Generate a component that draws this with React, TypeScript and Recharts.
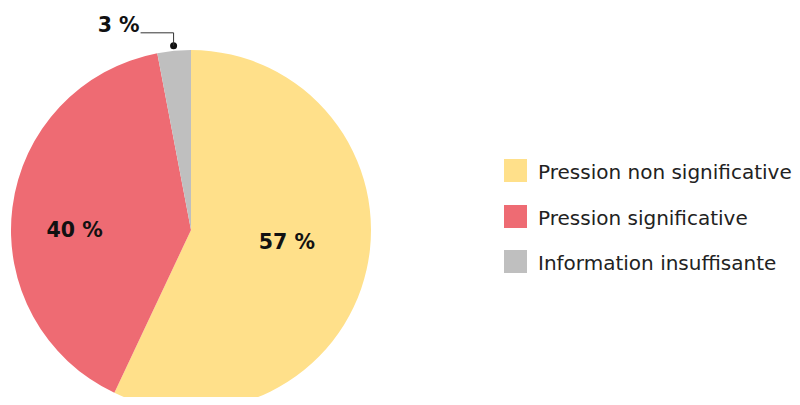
import { PieChart, Pie, Cell } from 'recharts'

const categories = ['Pression non significative', 'Pression significative', 'Information insuffisante']
const values = [57, 40, 3]
const COLORS = ['#FFE08A', '#EE6B73', '#BFBFBF']

const data = categories.map((name, i) => ({ name, value: values[i] }))

const RADIAN = Math.PI / 180
const FONT = '"DejaVu Sans", sans-serif'

// Label placement: inside for big slices, leader line for the small one
function renderLabel(props: any) {
  const { cx, cy, midAngle, outerRadius, index, value } = props
  const cos = Math.cos(-midAngle * RADIAN)
  const sin = Math.sin(-midAngle * RADIAN)
  if (index === 2) {
    const r = outerRadius + 5
    const x = cx + r * cos
    const y = cy + r * sin
    const topY = y - 13
    const endX = x - 33
    return (
      <g>
        <circle cx={x} cy={y} r={3.5} fill="#111" />
        <polyline points={`${x},${y} ${x},${topY} ${endX},${topY}`} fill="none" stroke="#333" strokeWidth={1} />
        <text x={endX - 1} y={topY - 1} textAnchor="end" fontFamily={FONT} fontWeight="bold" fontSize={20.5} fill="#111">
          {`${value} %`}
        </text>
      </g>
    )
  }
  const r = index === 0 ? outerRadius * 0.54 : outerRadius * 0.64
  const x = cx + r * cos + (index === 0 ? 1 : -2)
  const y = cy + r * sin + (index === 0 ? -9 : 14)
  return (
    <text x={x} y={y} textAnchor="middle" dominantBaseline="central" fontFamily={FONT} fontWeight="bold" fontSize={20.5} fill="#111">
      {`${value} %`}
    </text>
  )
}

export default function App() {
  return (
    <div style={{ position: 'relative', width: 800, height: 405, margin: -8, background: '#fff', overflow: 'hidden' }}>
      <PieChart width={800} height={405} margin={{ top: 0, right: 0, bottom: 0, left: 0 }}>
        <Pie
          data={data}
          dataKey="value"
          nameKey="name"
          cx={191}
          cy={230}
          outerRadius={180}
          startAngle={90}
          endAngle={-270}
          stroke="none"
          label={renderLabel}
          labelLine={false}
          isAnimationActive={false}
        >
          {data.map((_, i) => (
            <Cell key={i} fill={COLORS[i]} />
          ))}
        </Pie>
      </PieChart>
      <div style={{ position: 'absolute', left: 504, top: 159, fontFamily: FONT, fontSize: 20, color: '#222' }}>
        {categories.map((c, i) => (
          <div key={c} style={{ display: 'flex', alignItems: 'center', height: 23, marginBottom: 22.5 }}>
            <span style={{ display: 'inline-block', width: 23, height: 23, background: COLORS[i], marginRight: 11 }} />
            <span style={{ whiteSpace: 'nowrap', lineHeight: '23px', position: 'relative', top: 2 }}>{c}</span>
          </div>
        ))}
      </div>
    </div>
  )
}
